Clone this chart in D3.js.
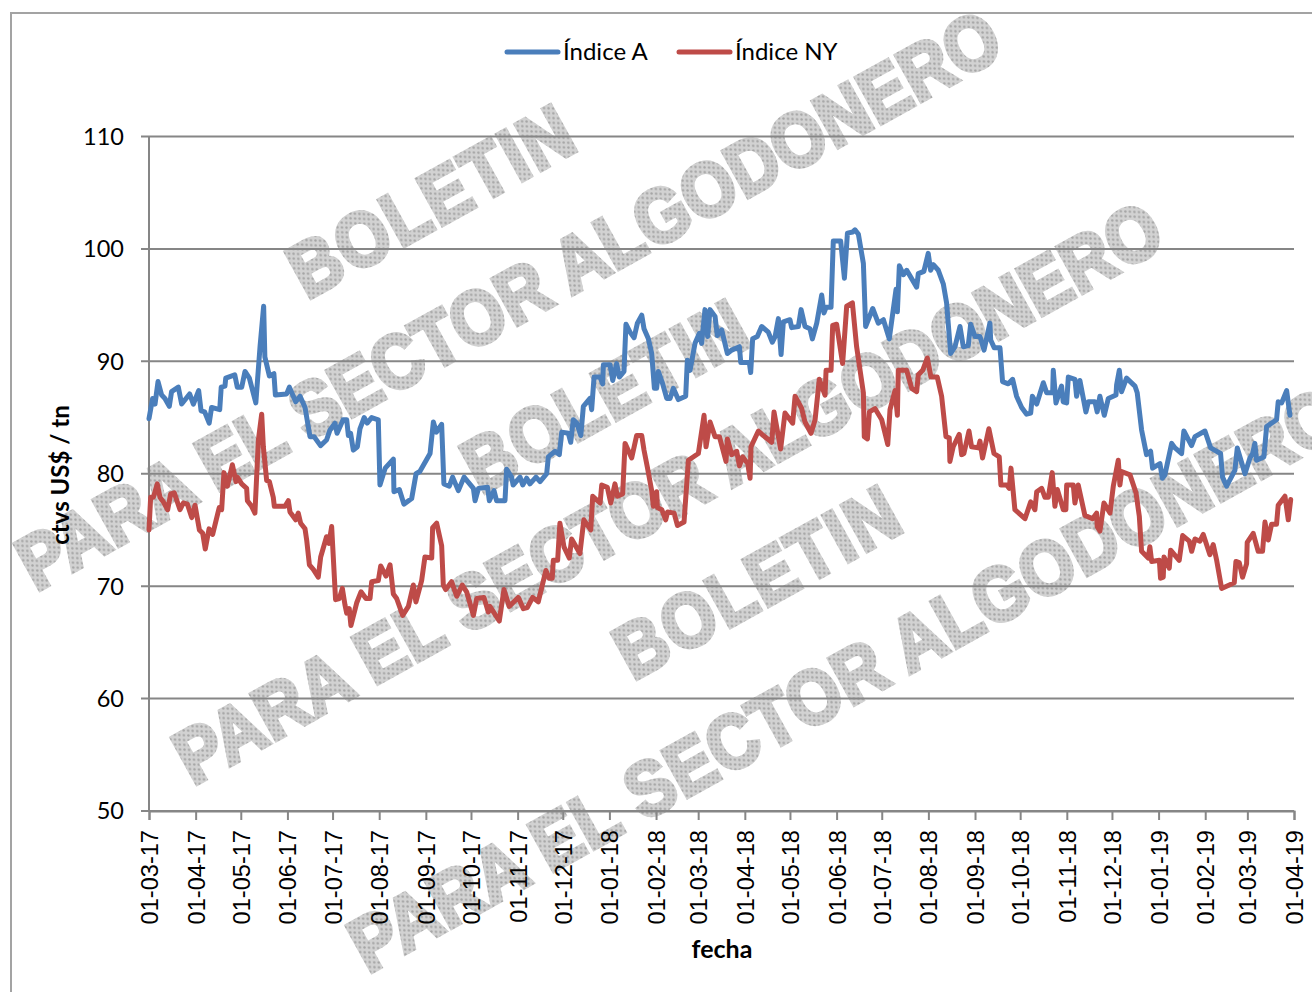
<!DOCTYPE html>
<html lang="es">
<head>
<meta charset="utf-8">
<title>Índice A e Índice NY</title>
<script src="https://cdn.jsdelivr.net/npm/d3@7/dist/d3.min.js"></script>
<style>
html,body{margin:0;padding:0;background:#fff;}
svg{display:block;}
</style>
</head>
<body>
<svg id="chart" width="1312" height="992"></svg>
<script>
const startDate = "2017-03-01";
const endDate = "2019-04-01";
const yTicks = [50,60,70,80,90,100,110];
const seriesNames = ["Índice A","Índice NY"];
const seriesColors = ["#4a7ebb","#be4b48"];
const yTitle = "ctvs US$ / tn";
const xTitle = "fecha";
const watermarkLong = "PARA EL SECTOR ALGODONERO";
const watermarkShort = "BOLETIN";

// days elapsed since startDate, and values
const daysA = [0,2.4,4,6,8.4,10.6,13.5,15,19.5,21.7,27,29.5,33,34.6,37,40,41.6,47,48,50.5,51,57,58.7,61.6,63.8,66.7,71,73.8,76.2,77,80,83,84,91.5,93.3,97.5,100.4,103.7,107,109.7,114,118,120.3,123.6,125,129,131.4,132.5,134,135.8,138.5,140.2,143,145,148,152.4,153.5,157,162.4,162.8,166.4,169.4,174.6,177.5,180,186.8,189,191,194.5,196,199.6,201.8,205.6,209.4,215.6,216.7,219,225,226.2,229.3,231,236.6,237.7,241,242,246.6,248.4,251,253.2,257.2,259.9,264.3,265.4,269.9,272.7,274.3,278.7,280.3,282,284.3,287,288.7,293.1,294.2,295.8,299.8,301.5,302,306.4,308.2,310.8,312.6,315.7,317,319.7,322.4,324.6,327.5,329,331.9,334.1,335.9,337.4,338.5,341.4,344.1,346.3,348.5,351.8,356.7,357.8,359.6,362.9,365.8,367.3,369.5,371.3,372.9,376.2,377.7,380.6,384.4,387.3,392.4,393.3,399,399.9,401.2,404.3,407.2,411.6,414.3,416.1,418.3,420.1,421.6,426,427.1,431.6,433.4,436,439.3,440.9,443.8,447.1,448.6,450,453.3,454.8,459.7,462.2,464.2,467.7,469.2,471.5,474.8,476.3,481,484.7,488.1,492,496.5,497.4,498.7,501.4,503.6,510.2,511.3,515,517.9,519.5,521.3,524.6,527.9,530.1,532.8,535.7,539,541.2,544.5,546.1,549,552.3,555,558.9,559.4,561.8,565.6,567.3,571.1,574,576.6,580,583.3,586,587.1,590,594.4,596.6,600.6,601,602.8,606.5,607.6,609.9,611,615.4,616.5,618.7,622.7,624.3,628.7,630.2,632,634.9,637.6,642.7,643.1,644.9,646.4,649.7,655.3,656.8,659.7,663,665.7,667,671.9,673.5,675.2,679.7,681.9,686.3,687.8,692.9,695.2,701.8,705.6,712.2,713.5,716.2,721.7,723.3,728.4,731.7,733.5,735,736.1,741,742.8,749.4,750.5,752.8,756.1,758.3];
const indiceA = [84.9,86.7,86.2,88.2,87,86.7,86,87.3,87.7,86.2,87.1,86.2,87.4,85.6,85.5,84.5,85.9,85.7,87.7,87.8,88.5,88.8,87.7,87.7,89.1,88.5,86.3,91.3,94.9,90.4,88.7,88.9,87,87.1,87.7,86.4,86.9,85.9,83.3,83.3,82.5,83,83.9,84.5,83.6,84.8,84.8,83.4,83.6,82.1,82.4,84,85,84.5,85,84.8,79,80.5,81.3,78.4,78.6,77.3,77.8,80,80.2,81.8,84.6,83.7,84.4,79.1,78.9,79.7,78.5,79.7,78.7,77.6,78.7,78.8,77.6,78.5,77.6,77.6,80.4,79.7,79,79.7,79,79.6,79.1,79.7,79.3,80,81.5,82,81.7,83.7,83.6,82.8,84.8,84.5,83.4,86,86.7,85.7,88.6,88.6,88,89.7,89.7,88.3,89.8,88.6,89.1,93.3,92.6,92.1,93.4,94.1,92.9,92,90.7,87.6,87.6,89.1,88,86.7,86.7,87.6,86.6,86.9,90.1,89.2,91.6,92.5,91.6,94.6,92.2,94.6,94,92.3,92.8,90.7,91,91.3,89.9,89.9,89,92,92.2,93.1,92.6,91.7,92.2,93.8,90.6,93.5,93.7,93,93.1,94.6,93.1,92.9,92,93.4,95.9,94.3,94.8,94.8,100.7,100.7,97.4,101.4,101.5,101.7,101.3,98.7,93.1,94.7,93.4,93.7,92,96.4,94.4,98.5,97.7,98.1,96.6,97.8,98,99.6,98.1,98.6,98.1,96.9,95.2,90.7,91.3,93.1,91.3,91.4,93.3,92.2,92.2,91,93.4,91.9,91.2,91.2,88.2,88,88.4,86.9,85.9,85.3,85.4,86.9,86.2,88.1,87.2,87.2,89.2,86.3,87.8,86.4,86.3,88.6,88.4,86.9,88.3,85.5,86.4,86.4,85.5,86.9,85.2,86.7,87,87.9,89.2,87.3,88.5,87.8,87.2,83.9,81.7,82,80.5,80.9,79.6,79.9,82.7,82.3,81.8,83.8,82.5,83.3,83.8,82.3,81.8,79.7,78.9,80.3,82.3,80,81.4,81.8,82.7,81.2,81.5,84.2,84.8,86.4,86.3,87.4,85.2];

const daysNY = [0,1.1,2.9,5.5,7.3,9.5,12.4,14.4,16.8,20.6,22.8,25.5,28.4,30.6,33.5,35.7,37.4,39.9,42.3,46.7,48.3,49.8,52.1,55.4,57.8,58.7,61.6,64.9,65.4,68.2,70.4,72.7,74.9,76,78.2,80,82.6,83.3,90.4,92.6,93.7,97.5,99.2,100.8,103.7,104.8,106.6,109.2,112.5,114.1,118,119.6,121.4,124,126.5,128.5,130.3,131.4,133.1,134.2,138,140.9,144.2,146.9,148,152.4,154,157.5,160.2,162.4,164.6,168.6,172.4,175.7,177.4,181.2,183.4,187.9,188.5,191.2,194.5,195.6,197.2,201.1,204.5,208.2,211.1,215.6,217.8,222.6,225.5,226.6,232.8,235.9,239.4,245.4,248.8,251.4,255,258.7,263.8,266,268,268.7,271.6,273.1,275.8,279.3,280.9,286.4,289,293.6,294.9,299.8,300.9,304.6,306.9,309.7,311.3,314.8,316.4,320.8,324.1,327.5,329,331.2,334.1,335.2,337.4,337.9,340.8,343.4,344.7,349,351.2,355.6,358.5,365.1,368.9,370.2,372.9,376.2,379.1,383.5,384.4,387.3,390.6,392.4,394.6,397.9,399.5,400.1,405,408.3,413.9,415.4,419.8,422.7,427.8,429.4,433.8,436,440,442.7,445.5,449.3,450,453.3,454.4,457,461,463.7,467.5,470.3,474.8,475.4,477.5,478.8,482.5,487,491,492.5,495.8,497.4,498,503.6,506.9,510.2,511.3,514.2,517.3,519.7,523.9,526.8,529.7,531.9,532.3,534.5,538.5,540.1,541.6,545,546.7,551.2,552.3,554,558.2,561.6,565.1,566.2,570,571.8,572.9,575.5,582.2,586,588.8,590,593.3,595.5,597.7,600.3,602.1,603.7,607.7,609.4,609.9,614.3,615.4,617.6,622,627.1,629.8,630.2,632,634.7,638.7,640.9,644.2,645.3,646.4,652,656,658.2,659.7,664.1,665.2,666.4,671.5,672.3,674.1,674.6,678.1,679,684.7,687,691.4,693,695.2,698.5,700.7,705.1,707.3,709.6,712.9,721.3,722.4,724.6,726.8,729.5,729.9,733.9,737.2,740.1,741.7,743.9,746.1,749.4,750.5,755,757.2,758.8];
const indiceNY = [75,77.9,77.9,79.1,77.9,77.5,76.8,78.2,78.3,76.8,77.4,77.3,76.1,77.2,75,74.7,73.3,75.1,74.6,77,76.8,80.1,78.9,80.8,79.3,79.7,79.1,78.7,77.6,77.1,76.5,83,85.3,82.4,79.4,79.3,77.9,77.1,77.1,77.6,76.6,75.9,76.5,75.6,75.1,74.1,71.9,71.5,70.8,72.6,74.4,73.8,75.3,68.8,68.9,69.8,68.3,67.6,68,66.5,68.5,69.5,68.9,68.9,70.4,70.5,71.8,70.9,71.9,69.3,68.9,67.4,68.2,70.1,68.6,70.5,72.6,72.5,75.2,75.6,73.6,70.1,69.7,70.4,69.1,70.1,69.5,67.4,68.9,69,67.7,68.2,66.9,69.7,68.2,69,68,68.1,69,68.6,71.4,70.7,70.7,72.3,72.3,75.6,73.5,72.5,74.2,72.9,75.9,75,78,77.4,79,78.8,77.4,79.1,78,78.2,82.7,81.4,83.4,83.4,82.1,80.6,78.5,77.1,78.4,77,76.8,75.9,76.6,76.5,75.4,75.7,81.2,81.8,85.2,82.4,84.6,83.3,83.3,81.1,83.1,81.7,82,80.7,81.5,80.9,79.6,82.4,83.8,83.4,82.8,85.5,82.2,85.4,84.5,86.9,85.8,84.6,83.6,84.8,88.4,87,89.2,89.2,93.2,93.3,89.8,94.9,95.2,91.3,87.2,83.3,83.1,85.5,85.8,84.8,82.6,85.7,87.4,85.2,89.2,89.2,87.6,87.3,88.8,89.2,90.3,88.6,88.6,86.9,83.3,83.2,81.1,82.4,83.5,81.7,81.8,83.8,82.4,82.3,82.9,81.4,84,81.8,81.5,79,79,78.7,80.5,76.8,76,77.5,76.8,78.4,78.7,77.9,77.9,80.1,77.1,78.6,76.8,76.8,79,79,77.4,79,76.3,76,76.5,75.3,74.9,77.4,76.5,78.9,81.2,79,80.2,79.9,78.3,76.2,73.1,72.5,73.5,72.2,72.3,70.7,70.8,72.6,71.6,73.2,72.3,74.5,74,73.1,74.2,74,74.6,72.8,73.7,72.3,69.8,70.3,72.2,72.1,70.8,72,73.9,74.7,73.1,73.1,75.7,74.1,75.5,75.5,77.2,78,75.9,77.7];

const svg = d3.select("#chart");
const parse = d3.utcParse("%Y-%m-%d");
const t0 = parse(startDate), t1 = parse(endDate);
const dayDate = d => t0.getTime() + d * 864e5;

const x = d3.scaleUtc().domain([t0, t1]).range([149, 1294]);
const y = d3.scaleLinear().domain([50, 110]).range([811, 136.5]);

// dotted watermark pattern
const defs = svg.append("defs");
const pat = defs.append("pattern").attr("id","dots").attr("patternUnits","userSpaceOnUse")
  .attr("width",4.4).attr("height",4.4).attr("patternTransform","rotate(29)");
pat.append("rect").attr("width",4.4).attr("height",4.4).attr("fill","#d2d2d2");
pat.append("circle").attr("cx",2.2).attr("cy",2.2).attr("r",1.15).attr("fill","#a4a4a4");
defs.append("filter").attr("id","soft").append("feGaussianBlur").attr("stdDeviation",0.6);

// outer frame
svg.append("path").attr("d","M11,992V13H1312").attr("fill","none").attr("stroke","#a3a3a3").attr("stroke-width",2);

// watermarks
const marks = [
  [watermarkLong, 36, 592, 1110],
  [watermarkShort, 307, 300, 312],
  [watermarkLong, 193, 786, 1115],
  [watermarkShort, 481, 495, 312],
  [watermarkLong, 368, 974, 1120],
  [watermarkShort, 633, 681, 312]
];
svg.append("g").attr("filter","url(#soft)").selectAll("text").data(marks).join("text")
  .attr("transform", d => `translate(${d[1]},${d[2]}) rotate(-29) scale(1,1.12)`)
  .attr("textLength", d => d[3]).attr("lengthAdjust","spacing")
  .attr("font-family","'Liberation Sans',Arial,sans-serif").attr("font-weight",700).attr("font-size",68)
  .attr("fill","url(#dots)").attr("stroke","url(#dots)").attr("stroke-width",4)
  .text(d => d[0]);

// gridlines and axes
const gridColor = "#868686";
svg.append("g").selectAll("line").data(yTicks).join("line")
  .attr("x1",141).attr("x2",1294).attr("y1",d=>y(d)).attr("y2",d=>y(d))
  .attr("stroke",gridColor).attr("stroke-width",2);
svg.append("line").attr("x1",149).attr("x2",149).attr("y1",y(110)).attr("y2",y(50))
  .attr("stroke",gridColor).attr("stroke-width",2);

const xAxis = d3.axisBottom(x).tickValues(d3.utcMonth.range(t0, d3.utcDay.offset(t1,1)))
  .tickFormat(d3.utcFormat("%d-%m-%y")).tickSize(9).tickPadding(0);
const gx = svg.append("g").attr("transform","translate(0,811)").call(xAxis);
gx.select(".domain").attr("stroke",gridColor).attr("stroke-width",2);
gx.selectAll(".tick line").attr("stroke",gridColor).attr("stroke-width",2);
gx.selectAll(".tick text")
  .attr("font-family","'Liberation Sans',Arial,sans-serif").attr("font-size",23.6).attr("fill","#000")
  .attr("text-anchor","end").attr("transform","rotate(-90)")
  .attr("x",-19).attr("y",0).attr("dy","0.36em");

svg.append("g").selectAll("text").data(yTicks).join("text")
  .attr("x",124).attr("y",d=>y(d)).attr("dy","0.36em").attr("text-anchor","end")
  .attr("font-family","Lato,sans-serif").attr("font-size",23.5).attr("fill","#000").text(d=>d);

// series
const line = d3.line().x(d=>x(new Date(d[0]))).y(d=>y(d[1])).curve(d3.curveLinear);
const seriesA = daysA.map((d,i)=>[dayDate(d), indiceA[i]]);
const seriesNY = daysNY.map((d,i)=>[dayDate(d), indiceNY[i]]);
svg.append("g").selectAll("path").data([seriesA, seriesNY]).join("path")
  .attr("d",line).attr("fill","none")
  .attr("stroke",(d,i)=>seriesColors[i]).attr("stroke-width",5)
  .attr("stroke-linejoin","round").attr("stroke-linecap","round");

// axis titles
svg.append("text").attr("transform","translate(69,475) rotate(-90)").attr("text-anchor","middle")
  .attr("font-family","Lato,sans-serif").attr("font-weight",700).attr("font-size",24).text(yTitle);
svg.append("text").attr("x",722).attr("y",958).attr("text-anchor","middle")
  .attr("font-family","Lato,sans-serif").attr("font-weight",700).attr("font-size",25).text(xTitle);

// legend
const legX = [507, 679];
const lg = svg.append("g").selectAll("g").data(seriesNames).join("g")
  .attr("transform",(d,i)=>`translate(${legX[i]},52)`);
lg.append("line").attr("x1",0).attr("x2",51).attr("stroke",(d,i)=>seriesColors[i])
  .attr("stroke-width",5).attr("stroke-linecap","round");
lg.append("text").attr("x",56).attr("y",-1).attr("dy","0.36em")
  .attr("font-family","Lato,sans-serif").attr("font-size",24).attr("fill","#000").text(d=>d);
</script>
</body>
</html>
